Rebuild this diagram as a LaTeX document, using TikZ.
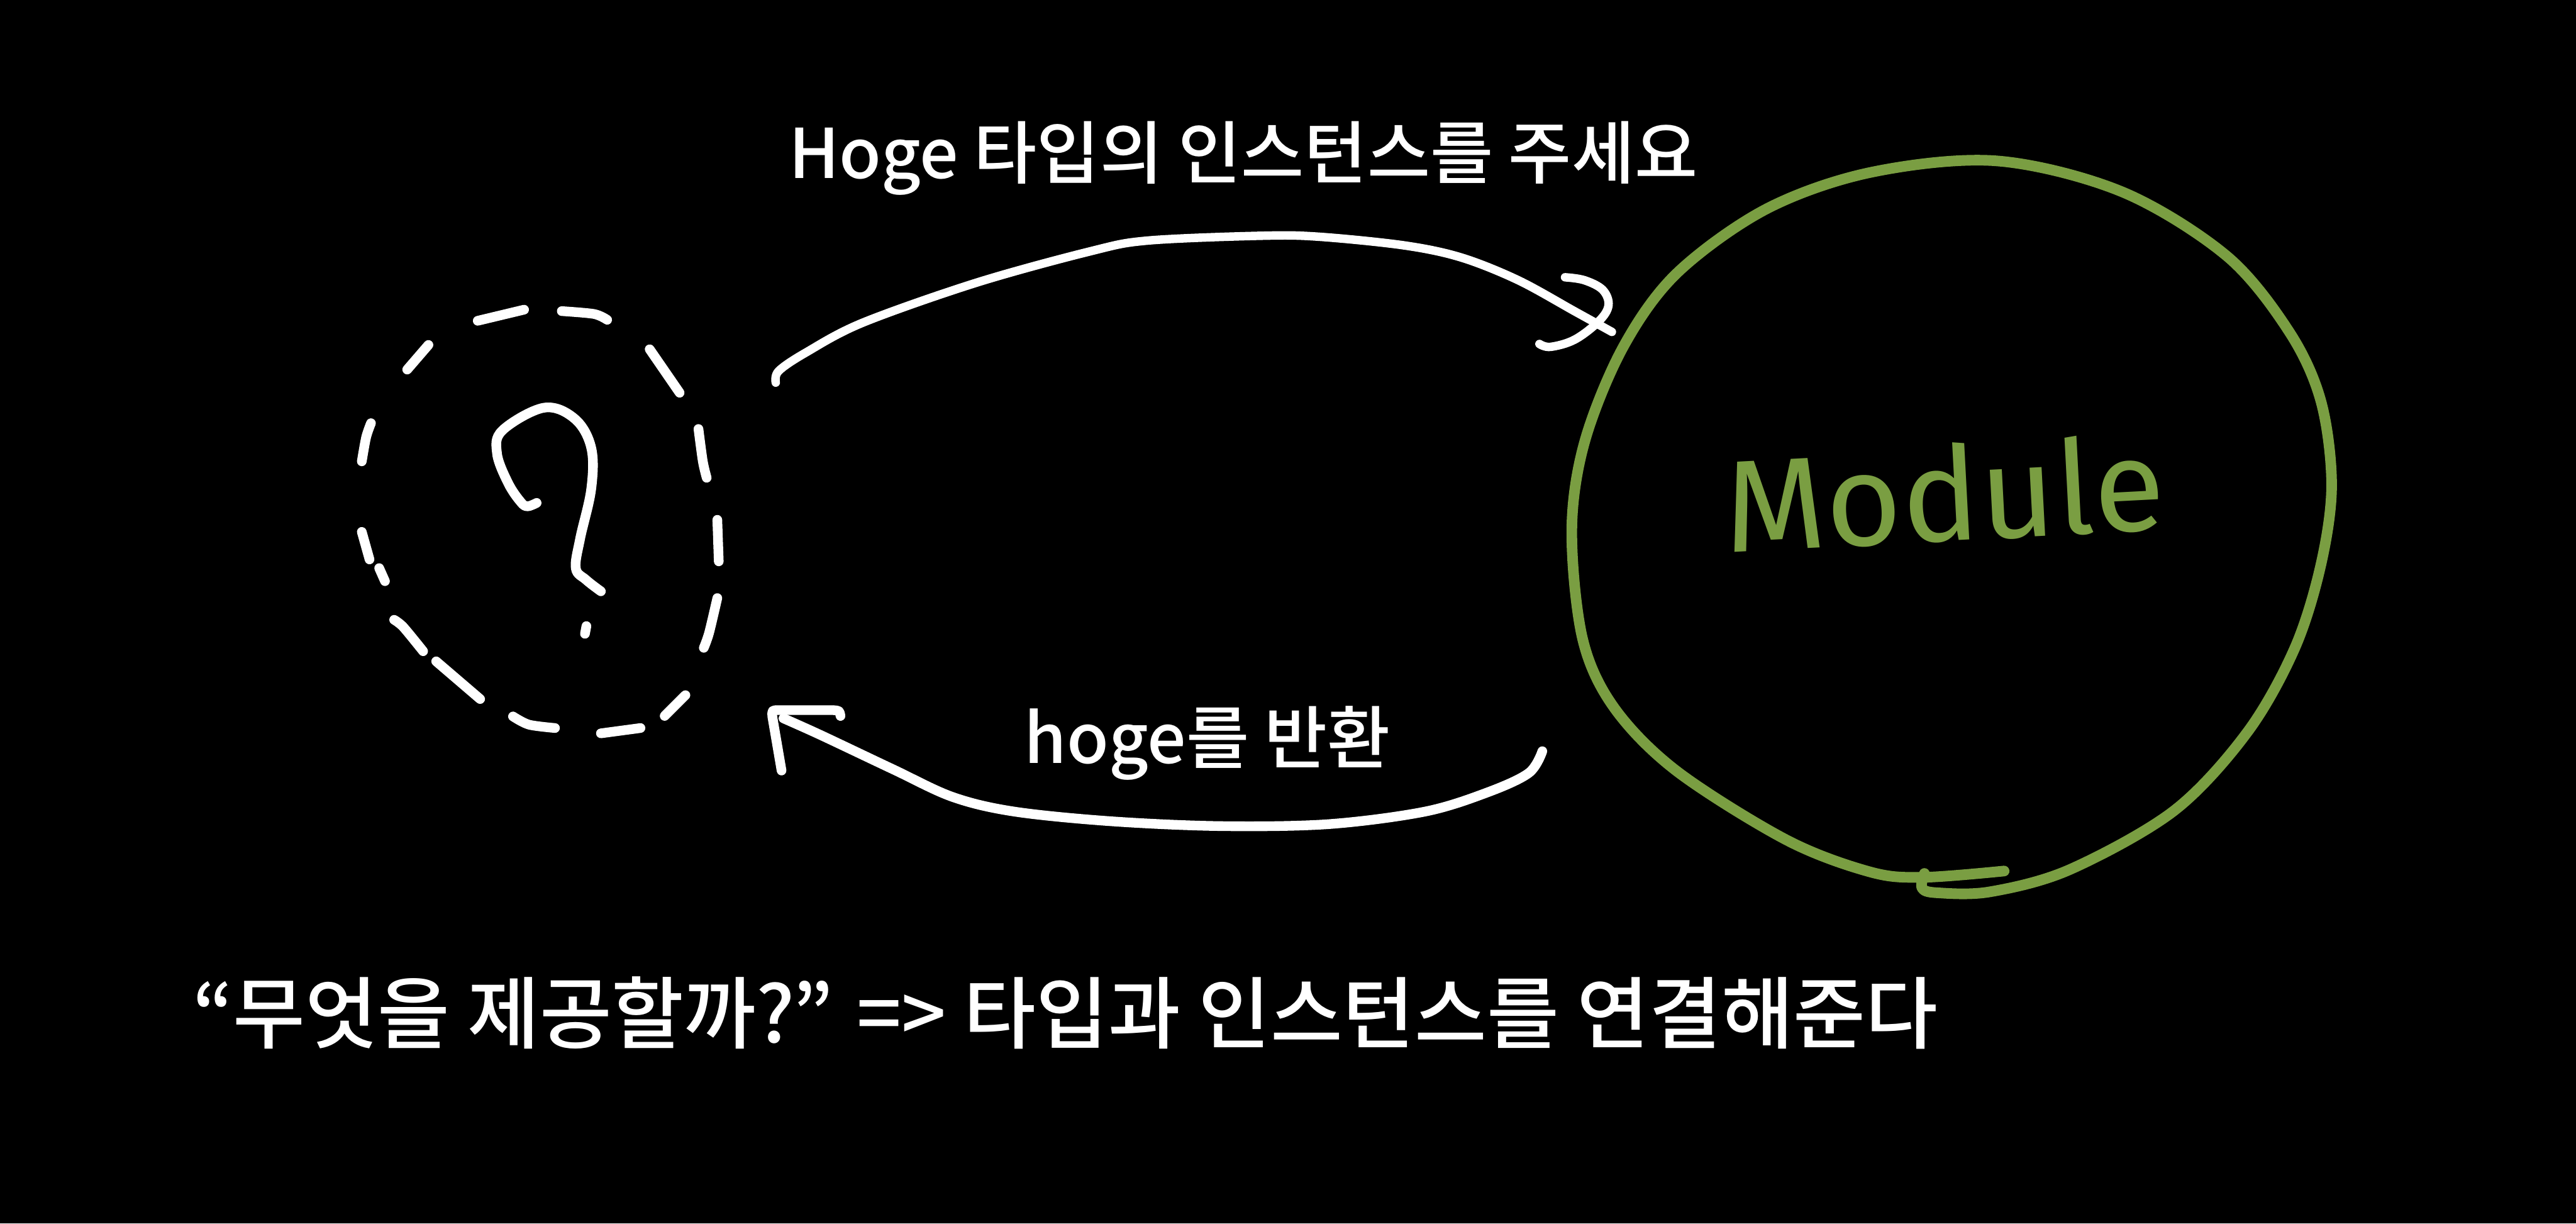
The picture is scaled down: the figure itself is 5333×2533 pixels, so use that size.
\documentclass[tikz,border=0pt]{standalone}
\usepackage{fontspec}
\setmainfont{Noto Sans CJK KR Medium}
\newfontfamily\modfont{Fira Sans}
\definecolor{modgreen}{HTML}{7A9E42}
\begin{document}
\begin{tikzpicture}[x=0.01cm,y=-0.01cm,
  chalk/.style={draw=white,line width=0.2cm,line cap=round,line join=round},
  thinchalk/.style={draw=white,line width=0.175cm,line cap=round,line join=round},
  pen/.style={draw=modgreen,line width=0.22cm,line cap=round,line join=round},
  lbl/.style={text=white,inner sep=0pt,anchor=base west},
  midfont/.style={font=\fontsize{40.3pt}{46pt}\selectfont},
  bigfont/.style={font=\fontsize{46.2pt}{52pt}\selectfont}]
\fill[black] (0,0) rectangle (5333,2533);
\useasboundingbox (0,0) rectangle (5333,2533);

% texts
\node[lbl,midfont] (ask) at (1632,369) {Hoge 타입의 인스턴스를 주세요};
\node[lbl,midfont] (ret) at (2120,1580) {hoge를 반환};
\node[lbl,bigfont] (note) at (398,2158) {“무엇을 제공할까?” => 타입과 인스턴스를 연결해준다};
\node[text=modgreen,inner sep=0pt,anchor=base,rotate=3,
      font=\modfont\fontsize{76.8pt}{90pt}\selectfont] (mod) at (4030,1120) {Module};

% dashed "unknown" circle
\coordinate (unknown) at (1115,1082);
\draw[chalk] (989,664) -- (1085,641);
\draw[chalk] plot[smooth] coordinates {(1163,644) (1230,650) (1257,662)};
\draw[chalk] (887,714) -- (843,765);
\draw[chalk] (1345,723) -- (1407,813);
\draw[chalk] plot[smooth] coordinates {(768,876) (758,905) (749,955)};
\draw[chalk] plot[smooth] coordinates {(1446,888) (1455,955) (1463,989)};
\draw[chalk] (1485,1076) -- (1488,1162);
\draw[chalk] (749,1101) -- (765,1158);
\draw[chalk] (785,1176) -- (797,1203);
\draw[chalk] plot[smooth] coordinates {(1485,1238) (1468,1310) (1457,1341)};
\draw[chalk] plot[smooth] coordinates {(816,1283) (835,1298) (876,1348)};
\draw[chalk] (903,1369) -- (994,1447);
\draw[chalk] (1419,1439) -- (1376,1482);
\draw[chalk] plot[smooth] coordinates {(1062,1483) (1095,1500) (1149,1507)};
\draw[chalk] (1326,1507) -- (1244,1518);

% question mark
\draw[chalk] plot[smooth,tension=0.6] coordinates {(1111,1041) (1092,1048) (1078,1039)
  (1052,1000) (1029,939) (1040,891) (1126,844) (1190,867) (1224,927) (1224,1012)
  (1201,1115) (1192,1176) (1213,1200) (1244,1224)};
\draw[chalk] (1214,1296) -- (1211,1312);

% Module circle
\coordinate (module) at (4040,1090);
\draw[pen] plot[smooth,tension=0.55] coordinates {(3984,1808) (3979,1838) (4010,1848)
  (4120,1846) (4285,1800) (4501,1678) (4653,1515) (4751,1341) (4805,1168) (4827,1004)
  (4805,831) (4740,688) (4610,530) (4393,397) (4133,333) (3872,357) (3656,433)
  (3471,566) (3360,719) (3281,913) (3254,1096) (3276,1321) (3341,1464) (3471,1596)
  (3699,1739) (3872,1805) (3981,1816) (4149,1803)};

% request arrow (unknown -> module)
\coordinate (askS) at (1606,792);
\coordinate (askE) at (3337,687);
\draw[thinchalk] plot[smooth,tension=0.55] coordinates {(askS) (1612,768) (1668,730)
  (1786,668) (2022,585) (2258,520) (2376,498) (2612,488) (2730,490) (2907,508)
  (3025,533) (3143,580) (3261,645) (askE)};
\draw[thinchalk] plot[smooth,tension=0.6] coordinates {(3187,712) (3210,718) (3260,703)
  (3310,665) (3330,632) (3318,600) (3280,580) (3240,574)};

% return arrow (module -> unknown)
\coordinate (retS) at (3193,1555);
\coordinate (retE) at (1622,1487);
\draw[chalk] plot[smooth,tension=0.55] coordinates {(retS) (3165,1600) (3080,1640)
  (2950,1680) (2750,1706) (2526,1710) (2300,1700) (2100,1680) (1973,1650) (1850,1593)
  (1700,1522) (retE)};
\draw[chalk] (1740,1482) .. controls (1738,1471) .. (1725,1470) -- (1612,1470)
  .. controls (1598,1470) .. (1599,1484) -- (1618,1595);
\end{tikzpicture}
\end{document}
